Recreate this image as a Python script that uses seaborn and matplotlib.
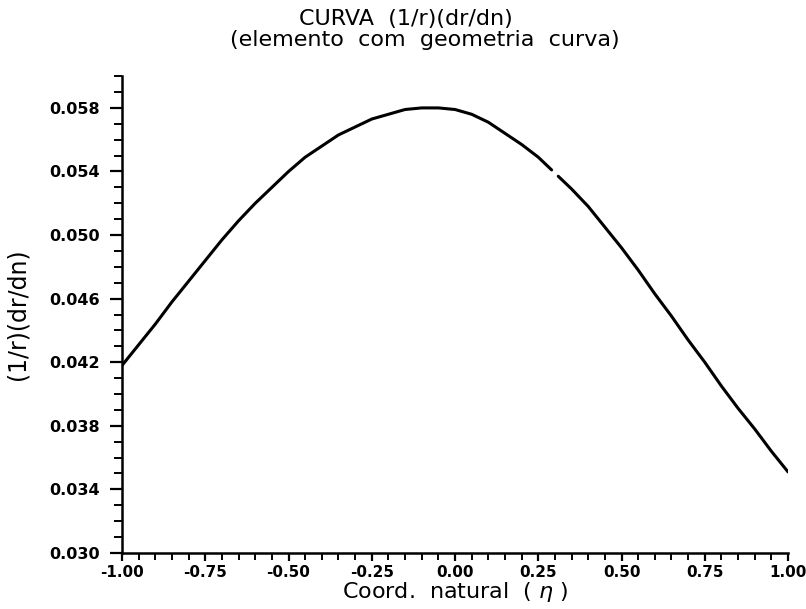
import matplotlib
matplotlib.use("Agg")
import matplotlib.pyplot as plt
import seaborn as sns
import pandas as pd
from matplotlib.ticker import MultipleLocator, FormatStrFormatter

# curve values (the line has a small break near eta = 0.30)
eta_left = [-1.00, -0.95, -0.90, -0.85, -0.80, -0.75, -0.70, -0.65, -0.60, -0.55, -0.50,
            -0.45, -0.40, -0.35, -0.30, -0.25, -0.20, -0.15, -0.10, -0.05, 0.00, 0.05,
            0.10, 0.15, 0.20, 0.25, 0.29]
val_left = [0.0418, 0.0431, 0.0444, 0.0458, 0.0471, 0.0484, 0.0497, 0.0509, 0.0520, 0.0530,
            0.0540, 0.0549, 0.0556, 0.0563, 0.0568, 0.0573, 0.0576, 0.0579, 0.0580, 0.0580,
            0.0579, 0.0576, 0.0571, 0.0564, 0.0557, 0.0549, 0.0541]
eta_right = [0.31, 0.35, 0.40, 0.45, 0.50, 0.55, 0.60, 0.65, 0.70, 0.75, 0.80, 0.85, 0.90,
             0.95, 1.00]
val_right = [0.0537, 0.0529, 0.0518, 0.0505, 0.0492, 0.0478, 0.0463, 0.0449, 0.0434, 0.0420,
             0.0405, 0.0391, 0.0378, 0.0364, 0.0351]

y_ticks = [0.030, 0.034, 0.038, 0.042, 0.046, 0.050, 0.054, 0.058]
x_ticks = [-1.00, -0.75, -0.50, -0.25, 0.00, 0.25, 0.50, 0.75, 1.00]

sns.set_style("ticks", {"text.color": "black", "axes.labelcolor": "black",
                        "xtick.color": "black", "ytick.color": "black"})
plt.rcParams['font.family'] = ['DejaVu Sans']

fig = plt.figure(figsize=(8.06, 6.09), dpi=100)
ax = fig.add_axes([0.1514, 0.092, 0.8263, 0.783])

left = pd.DataFrame({"eta": eta_left, "val": val_left})
right = pd.DataFrame({"eta": eta_right, "val": val_right})
sns.lineplot(data=left, x="eta", y="val", color="black", linewidth=2.2, ax=ax)
sns.lineplot(data=right, x="eta", y="val", color="black", linewidth=2.2, ax=ax)

ax.set_xlim(-1.0, 1.0)
ax.set_ylim(0.030, 0.060)
ax.set_yticks(y_ticks)
ax.set_xticks(x_ticks)
ax.yaxis.set_minor_locator(MultipleLocator(0.001))
ax.xaxis.set_minor_locator(MultipleLocator(0.05))
ax.yaxis.set_major_formatter(FormatStrFormatter("%.3f"))
ax.xaxis.set_major_formatter(FormatStrFormatter("%.2f"))
ax.tick_params(axis="y", which="major", direction="out", length=9, width=1.6,
               labelsize=11.5, pad=7)
ax.tick_params(axis="y", which="minor", direction="out", length=6, width=1.4)
ax.tick_params(axis="x", which="major", direction="out", length=6, width=1.6,
               labelsize=11, pad=3)
ax.tick_params(axis="x", which="minor", direction="out", length=5, width=1.4)
for lab in ax.get_xticklabels() + ax.get_yticklabels():
    lab.set_fontweight("bold")

sns.despine(ax=ax)
for s in ["left", "bottom"]:
    ax.spines[s].set_linewidth(1.8)
    ax.spines[s].set_color("black")

ax.set_xlabel(r"Coord.  natural  ( $\eta$ )", fontsize=16, labelpad=0)
ax.set_ylabel("(1/r)(dr/dn)", fontsize=17, labelpad=14)

fig.text(0.504, 0.968, "CURVA  (1/r)(dr/dn)", ha="center", va="center", fontsize=16)
fig.text(0.527, 0.934, "(elemento  com  geometria  curva)", ha="center", va="center",
         fontsize=16)

fig.savefig("out.png", dpi=100, facecolor="white")
